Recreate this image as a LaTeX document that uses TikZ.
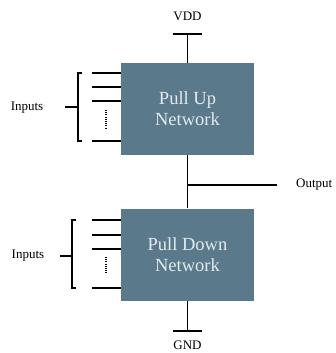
\documentclass[tikz,border=0pt]{standalone}
\usepackage{fontspec}
\setmainfont{Liberation Serif}
\usetikzlibrary{positioning,calc}
\definecolor{netblue}{RGB}{90,122,140}
\definecolor{nettext}{RGB}{228,234,238}

\begin{document}
\begin{tikzpicture}[x=1pt,y=-1pt,
    netbox/.style={fill=netblue,minimum width=133pt,minimum height=92pt,inner sep=0pt,align=center,text=nettext,font=\fontsize{18.5}{21}\selectfont},
    lbl/.style={font=\fontsize{13}{15}\selectfont,inner sep=0pt},
    wire/.style={line width=1.8pt},
    rail/.style={line width=2.2pt}]
    \useasboundingbox (0,0) rectangle (335,353);
    % the two networks
    \node[netbox] (pun) at (187.5,109) {Pull Up\\Network};
    \node[netbox] (pdn) at (187.5,254.5) {Pull Down\\Network};
    % supply and ground
    \node[lbl] (vdd) at (187.5,16) {VDD};
    \node[lbl] (gnd) at (187.5,345) {GND};
    \coordinate (vddbar) at (187.5,34);
    \coordinate (gndbar) at (187.5,331);
    \draw[rail] ($(vddbar)+(-14.5,0)$) -- ($(vddbar)+(14.5,0)$);
    \draw[rail] ($(gndbar)+(-14.5,0)$) -- ($(gndbar)+(14.5,0)$);
    \draw[wire] (vddbar) -- (pun.north);
    \draw[wire] (pdn.south) -- (gndbar);
    % output
    \draw[wire] (pun.south) -- (pdn.north);
    \node[lbl,anchor=west] (out) at (296,185) {Output};
    \coordinate (tap) at (187.5,185);
    \coordinate (outend) at (277,185);
    \draw[wire] (tap) -- (outend);
    % inputs of the pull up network
    \foreach \y in {72.7,87.3,101,141.3}
      \draw[wire] (92,\y) -- (pun.west |- 0,\y);
    \draw[line width=1.3pt,dash pattern=on 1pt off 1.2pt] (106,110) -- (106,128);
    \draw[wire] (82,73) -- (78,73) -- (78,141) -- (82,141);
    \node[lbl] (inup) at (27,108) {Inputs};
    \coordinate (braceup) at (78,107);
    \draw[wire] (braceup) -- ++(-13,0);
    % inputs of the pull down network
    \foreach \y in {220,235,248.7,287.7}
      \draw[wire] (92,\y) -- (pdn.west |- 0,\y);
    \draw[line width=1.3pt,dash pattern=on 1pt off 1.2pt] (106,257) -- (106,274);
    \draw[wire] (76,220) -- (72,220) -- (72,288) -- (76,288);
    \node[lbl] (indown) at (28,256) {Inputs};
    \coordinate (bracedown) at (72,256);
    \draw[wire] (bracedown) -- ++(-12,0);
\end{tikzpicture}
\end{document}
